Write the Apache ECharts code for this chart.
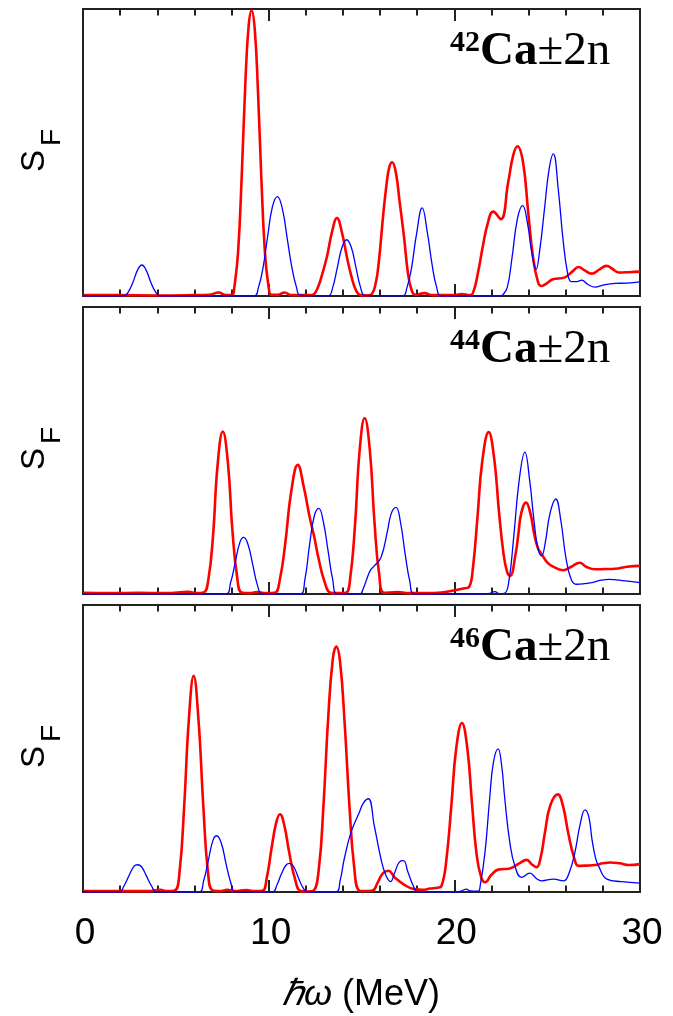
<!DOCTYPE html>
<html>
<head>
<meta charset="utf-8">
<script src="https://cdn.jsdelivr.net/npm/echarts@6/dist/echarts.min.js"></script>
<style>
  html, body { margin: 0; padding: 0; background: #ffffff; }
  #chart { width: 673px; height: 1016px; }
</style>
</head>
<body>
<div id="chart"></div>
<script>
// Energy axis (MeV)
const energyMin = 0;
const energyMax = 30;
const energyTicks = [0, 10, 20, 30];

// Mass numbers of the three calcium cores
const nuclei = ['42', '44', '46'];

// Strength functions, [hbar*omega (MeV), S_F (arb. units)]
const ca42Red = [
  [0, 0.003], [2, 0.003], [4, 0.002], [6, 0.003], [6.8, 0.004], [7.3, 0.012], [7.7, 0.003], [8.05, 0.005],
  [8.15, 0.03], [8.35, 0.15], [8.55, 0.42], [8.75, 0.75], [8.92, 0.94], [9.08, 0.995], [9.25, 0.93],
  [9.42, 0.72], [9.6, 0.42], [9.8, 0.15], [10.0, 0.03], [10.15, 0.004],
  [10.5, 0.004], [10.86, 0.012], [11.2, 0.003], [12.2, 0.003],
  [12.4, 0.005], [12.65, 0.03], [12.9, 0.08], [13.15, 0.14], [13.4, 0.22], [13.68, 0.272], [13.95, 0.22],
  [14.2, 0.14], [14.45, 0.07], [14.7, 0.02], [14.95, 0.003], [15.3, 0.002],
  [15.5, 0.004], [15.75, 0.04], [15.95, 0.13], [16.15, 0.27], [16.35, 0.39], [16.5, 0.45], [16.65, 0.466],
  [16.85, 0.43], [17.05, 0.33], [17.3, 0.2], [17.5, 0.08], [17.7, 0.02], [17.9, 0.004],
  [18.4, 0.01], [18.8, 0.003], [20.0, 0.003], [20.4, 0.007], [20.8, 0.003],
  [21.0, 0.01], [21.27, 0.08], [21.54, 0.175], [21.81, 0.256], [22.09, 0.294], [22.5, 0.268], [22.9, 0.396],
  [23.17, 0.49], [23.4, 0.522], [23.7, 0.466], [23.98, 0.291], [24.25, 0.13], [24.52, 0.046], [24.7, 0.035],
  [25.0, 0.045], [25.3, 0.058], [25.96, 0.065], [26.35, 0.085], [26.69, 0.101], [27.0, 0.09], [27.4, 0.078],
  [27.8, 0.092], [28.2, 0.105], [28.5, 0.095], [28.85, 0.082], [29.4, 0.083], [30, 0.085]
];
const ca42Blue = [
  [0, 0], [2.2, 0], [2.45, 0.015], [2.7, 0.05], [2.95, 0.092], [3.17, 0.108], [3.4, 0.09], [3.65, 0.048],
  [3.9, 0.015], [4.15, 0], [9.2, 0],
  [9.45, 0.03], [9.7, 0.1], [9.95, 0.21], [10.2, 0.31], [10.47, 0.346], [10.75, 0.3], [11.0, 0.2],
  [11.25, 0.1], [11.5, 0.03], [11.7, 0.003], [13.2, 0],
  [13.45, 0.03], [13.7, 0.1], [13.95, 0.17], [14.2, 0.196], [14.45, 0.17], [14.7, 0.1], [14.95, 0.03], [15.2, 0.002],
  [17.2, 0], [17.45, 0.03], [17.7, 0.1], [17.95, 0.21], [18.27, 0.307], [18.55, 0.22], [18.8, 0.11],
  [19.05, 0.03], [19.3, 0], [22.5, 0],
  [22.6, 0.003], [22.85, 0.03], [23.1, 0.13], [23.4, 0.27], [23.68, 0.315], [23.95, 0.25], [24.15, 0.16],
  [24.4, 0.093], [24.6, 0.16], [24.85, 0.3], [25.1, 0.44], [25.33, 0.495], [25.6, 0.37], [25.85, 0.2],
  [26.1, 0.08], [26.3, 0.05], [26.6, 0.05], [26.86, 0.055], [27.2, 0.04], [27.59, 0.031], [28.0, 0.038],
  [28.66, 0.044], [29.3, 0.045], [30, 0.049]
];

const ca44Red = [
  [0, 0.004], [1.5, 0.003], [3, 0.004], [4.5, 0.003], [5.68, 0.008], [6.1, 0.003],
  [6.5, 0.005], [6.75, 0.05], [7.0, 0.2], [7.25, 0.45], [7.53, 0.566], [7.8, 0.46], [8.05, 0.22],
  [8.3, 0.06], [8.55, 0.005], [9.0, 0.003], [9.39, 0.007], [9.8, 0.003],
  [10.32, 0.004], [10.6, 0.05], [10.9, 0.18], [11.2, 0.35], [11.57, 0.45], [11.9, 0.37], [12.2, 0.27],
  [12.45, 0.2], [12.7, 0.12], [13.0, 0.045], [13.35, 0.004], [13.8, 0.003],
  [14.16, 0.004], [14.4, 0.06], [14.65, 0.24], [14.9, 0.5], [15.17, 0.613], [15.45, 0.5], [15.7, 0.25],
  [15.95, 0.07], [16.23, 0.004], [16.95, 0.007], [17.5, 0.003], [18.5, 0.003], [19.3, 0.005],
  [20.0, 0.013], [20.55, 0.02],
  [20.8, 0.025], [21.0, 0.09], [21.25, 0.27], [21.5, 0.46], [21.85, 0.564], [22.15, 0.47], [22.4, 0.29],
  [22.65, 0.14], [22.85, 0.075], [23.0, 0.063],
  [23.3, 0.14], [23.45, 0.21], [23.6, 0.28], [23.86, 0.319], [24.1, 0.28], [24.3, 0.21], [24.5, 0.16],
  [24.7, 0.139], [25.0, 0.11], [25.24, 0.098], [25.86, 0.083], [26.3, 0.095], [26.75, 0.109], [27.1, 0.095],
  [27.57, 0.086], [28.1, 0.087], [28.65, 0.088], [29.3, 0.095], [30, 0.098]
];
const ca44Blue = [
  [0, 0], [7.68, 0], [7.95, 0.04], [8.2, 0.11], [8.45, 0.18], [8.66, 0.197], [8.9, 0.17], [9.15, 0.1],
  [9.4, 0.03], [9.66, 0], [11.69, 0],
  [11.95, 0.05], [12.2, 0.17], [12.45, 0.27], [12.7, 0.298], [12.95, 0.25], [13.2, 0.15], [13.45, 0.05],
  [13.71, 0], [14.9, 0],
  [15.1, 0.02], [15.3, 0.055], [15.5, 0.085], [15.69, 0.098], [16.05, 0.127], [16.4, 0.22], [16.6, 0.28],
  [16.86, 0.302], [17.1, 0.25], [17.35, 0.14], [17.6, 0.045], [17.85, 0], [21.5, 0],
  [21.9, 0.002], [22.18, 0.008], [22.45, 0.001], [22.72, 0.003], [22.95, 0.05], [23.2, 0.2], [23.5, 0.4],
  [23.8, 0.494], [24.05, 0.4], [24.3, 0.25], [24.5, 0.16], [24.7, 0.133], [24.9, 0.18], [25.15, 0.28],
  [25.46, 0.331], [25.75, 0.25], [26.0, 0.13], [26.3, 0.05], [26.6, 0.034], [27.0, 0.036], [27.41, 0.04],
  [27.9, 0.048], [28.31, 0.051], [29.2, 0.046], [30, 0.04]
];

const ca46Red = [
  [0, 0.003], [2, 0.003], [3.5, 0.003], [4.16, 0.008], [4.5, 0.003],
  [4.94, 0.005], [5.2, 0.07], [5.45, 0.3], [5.7, 0.6], [5.96, 0.753], [6.22, 0.6], [6.48, 0.3], [6.73, 0.07],
  [6.99, 0.005], [7.4, 0.003], [7.77, 0.008], [8.2, 0.003], [8.79, 0.007], [9.2, 0.003],
  [9.66, 0.004], [9.9, 0.05], [10.15, 0.15], [10.4, 0.24], [10.61, 0.271], [10.85, 0.23], [11.1, 0.14],
  [11.4, 0.05], [11.73, 0.003], [12.1, 0.002],
  [12.4, 0.004], [12.7, 0.08], [12.95, 0.3], [13.2, 0.6], [13.45, 0.81], [13.64, 0.855], [13.85, 0.8],
  [14.1, 0.58], [14.35, 0.3], [14.6, 0.09], [14.88, 0.005], [15.2, 0.003],
  [15.6, 0.005], [15.85, 0.03], [16.15, 0.065], [16.45, 0.074], [16.8, 0.05], [17.31, 0.025], [17.84, 0.01],
  [18.3, 0.008], [18.7, 0.012], [19.1, 0.015],
  [19.3, 0.02], [19.55, 0.1], [19.85, 0.31], [20.1, 0.5], [20.41, 0.589], [20.7, 0.5], [20.95, 0.31],
  [21.2, 0.13], [21.45, 0.05], [21.66, 0.034],
  [22.0, 0.06], [22.36, 0.078], [22.99, 0.082], [23.5, 0.1], [23.89, 0.112], [24.2, 0.095], [24.43, 0.086],
  [24.65, 0.12], [24.88, 0.207], [25.16, 0.3], [25.57, 0.34], [25.85, 0.3], [26.15, 0.2], [26.45, 0.12],
  [26.69, 0.091], [27.1, 0.092], [27.59, 0.094], [28.0, 0.1], [28.4, 0.103], [28.9, 0.1], [29.4, 0.094], [30, 0.097]
];
const ca46Blue = [
  [0, 0], [1.96, 0], [2.2, 0.02], [2.5, 0.06], [2.75, 0.09], [2.94, 0.095], [3.15, 0.088], [3.4, 0.058],
  [3.7, 0.02], [3.95, 0], [6.23, 0],
  [6.5, 0.04], [6.75, 0.11], [7.0, 0.18], [7.2, 0.196], [7.45, 0.17], [7.7, 0.1], [7.95, 0.035], [8.22, 0],
  [10.2, 0], [10.45, 0.025], [10.7, 0.065], [10.95, 0.095], [11.14, 0.1], [11.35, 0.088], [11.6, 0.05],
  [11.85, 0.015], [12.09, 0], [13.62, 0],
  [13.85, 0.04], [14.07, 0.115], [14.43, 0.207], [14.88, 0.277], [15.1, 0.31], [15.37, 0.325], [15.69, 0.23],
  [16.05, 0.115], [16.3, 0.06], [16.56, 0.036], [16.8, 0.07], [17.05, 0.105], [17.26, 0.109], [17.5, 0.07],
  [17.8, 0.02], [18.04, 0], [20.2, 0],
  [20.45, 0.006], [20.65, 0.01], [20.85, 0.004], [21.28, 0.003], [21.4, 0.025], [21.65, 0.137], [21.9, 0.323],
  [22.1, 0.45], [22.36, 0.499], [22.55, 0.44], [22.72, 0.323], [22.99, 0.172], [23.26, 0.091], [23.62, 0.051],
  [24.07, 0.066], [24.4, 0.048], [24.7, 0.039], [25.34, 0.045], [25.88, 0.039], [26.2, 0.07], [26.5, 0.14],
  [26.77, 0.234], [27.04, 0.286], [27.25, 0.26], [27.41, 0.185], [27.6, 0.12], [27.77, 0.09], [28.22, 0.045],
  [29.0, 0.036], [30, 0.031]
];

const redData = [ca42Red, ca44Red, ca46Red];
const blueData = [ca42Blue, ca44Blue, ca46Blue];

// Layout of the stacked panels (pixels)
const plotLeft = 83;
const plotWidth = 557;
const panelTops = [9, 307, 605];
const panelHeight = 287;

const frameColor = '#222222';
const sansFont = '"Liberation Sans", Arial, Helvetica, sans-serif';
const serifFont = '"Liberation Serif", "Times New Roman", serif';

const chart = echarts.init(document.getElementById('chart'), null, { renderer: 'canvas' });

const grid = [];
const xAxis = [];
const yAxis = [];
const series = [];
const graphic = [];

function tickedAxis(gridIndex, position, withLabels) {
  return {
    type: 'value',
    gridIndex: gridIndex,
    position: position,
    min: energyMin,
    max: energyMax,
    interval: 10,
    axisLine: { show: false },
    axisTick: { show: true, inside: true, length: 12, lineStyle: { color: frameColor, width: 2 } },
    minorTick: { show: true, splitNumber: 5, length: 6.5, lineStyle: { color: frameColor, width: 2 } },
    splitLine: { show: false },
    minorSplitLine: { show: false },
    axisLabel: {
      show: withLabels,
      margin: 23,
      fontSize: 37,
      fontFamily: sansFont,
      color: '#000',
      padding: [0, 0, 0, 4],
      formatter: v => (energyTicks.indexOf(v) >= 0 ? String(v) : '')
    }
  };
}

nuclei.forEach((mass, i) => {
  const top = panelTops[i];
  grid.push({
    left: plotLeft, top: top, width: plotWidth, height: panelHeight,
    show: true, borderColor: frameColor, borderWidth: 2, backgroundColor: 'transparent'
  });
  xAxis.push(tickedAxis(i, 'bottom', i === nuclei.length - 1));
  xAxis.push(tickedAxis(i, 'top', false));
  yAxis.push({ type: 'value', gridIndex: i, min: 0, max: 1, show: false, splitLine: { show: false } });

  series.push({
    name: 'red ' + mass, type: 'line', xAxisIndex: 2 * i, yAxisIndex: i,
    data: redData[i], showSymbol: false, smooth: 0.45, z: 2,
    lineStyle: { color: '#ff0000', width: 2.6 }
  });
  series.push({
    name: 'blue ' + mass, type: 'line', xAxisIndex: 2 * i, yAxisIndex: i,
    data: blueData[i], showSymbol: false, smooth: 0.45, z: 3,
    lineStyle: { color: '#0000ff', width: 1.3 }
  });

  // Panel title: nucleus with a pair of neutrons added / removed
  graphic.push({
    type: 'text', x: 450, y: top + 19, z: 10,
    style: {
      text: '{sup|' + mass + '}{ca|Ca}{rest|±2n}',
      align: 'left', verticalAlign: 'top', textAlign: 'left', textVerticalAlign: 'top',
      fill: '#000',
      rich: {
        sup: { fontSize: 30, fontWeight: 'bold', fontFamily: serifFont, fill: '#000', lineHeight: 24, verticalAlign: 'top' },
        ca: { fontSize: 47, fontWeight: 'bold', fontFamily: serifFont, fill: '#000', lineHeight: 47 },
        rest: { fontSize: 47, fontWeight: 'normal', fontFamily: serifFont, fill: '#000', lineHeight: 47 }
      }
    }
  });

  // Vertical axis title S_F
  graphic.push({
    type: 'text', x: 35, y: top + 152, rotation: Math.PI / 2, z: 10,
    style: {
      text: 'S', font: '33px ' + sansFont, fill: '#000',
      align: 'center', verticalAlign: 'middle', textAlign: 'center', textVerticalAlign: 'middle'
    }
  });
  graphic.push({
    type: 'text', x: 52, y: top + 128.5, rotation: Math.PI / 2, z: 10,
    style: {
      text: 'F', font: '28px ' + sansFont, fill: '#000',
      align: 'center', verticalAlign: 'middle', textAlign: 'center', textVerticalAlign: 'middle'
    }
  });
});

// Horizontal axis title
graphic.push({
  type: 'text', x: 361, y: 995, z: 10,
  style: {
    text: '{h|ℏω} (MeV)',
    font: '36px ' + sansFont, fill: '#000',
    align: 'center', verticalAlign: 'middle', textAlign: 'center', textVerticalAlign: 'middle',
    rich: {
      h: { fontSize: 36, fontStyle: 'italic', fontFamily: sansFont, fill: '#000' }
    }
  }
});

chart.setOption({
  animation: false,
  backgroundColor: '#ffffff',
  grid: grid,
  xAxis: xAxis,
  yAxis: yAxis,
  series: series,
  graphic: graphic
});
</script>
</body>
</html>
